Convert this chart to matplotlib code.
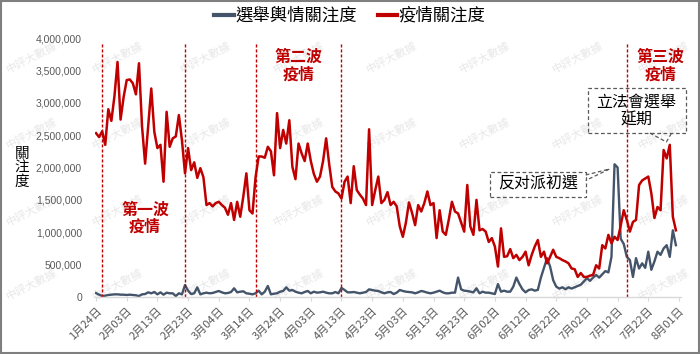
import matplotlib
matplotlib.use('Agg')
import matplotlib.pyplot as plt
from matplotlib.lines import Line2D
from matplotlib.patches import Rectangle
import numpy as np

CJK = ['Noto Sans CJK TC', 'DejaVu Sans']
plt.rcParams['font.family'] = CJK

# ---- data (daily, from 2020-01-24), values in millions ----
tick_labels = ['1月24日', '2月03日', '2月13日', '2月23日', '3月04日', '3月14日', '3月24日',
               '4月03日', '4月13日', '4月23日', '5月03日', '5月13日', '5月23日', '6月02日',
               '6月12日', '6月22日', '7月02日', '7月12日', '7月22日', '8月01日']
y_tick_labels = ['0', '500,000', '1,000,000', '1,500,000', '2,000,000',
                 '2,500,000', '3,000,000', '3,500,000', '4,000,000']
series_names = ['選舉輿情關注度', '疫情關注度']

epidemic = [2.53, 2.47, 2.56, 2.35, 2.90, 2.72, 3.10, 3.63, 2.74, 3.09,
            3.35, 3.36, 3.30, 3.13, 3.61, 2.63, 2.06, 2.65, 3.22, 2.55,
            2.30, 2.35, 1.78, 2.86, 2.32, 2.45, 2.48, 2.81, 2.42, 1.91,
            2.30, 1.96, 2.08, 1.84, 1.99, 1.85, 1.42, 1.45, 1.40, 1.45,
            1.47, 1.42, 1.38, 1.27, 1.45, 1.19, 1.47, 1.24, 1.55, 1.91,
            1.34, 1.29, 1.85, 2.17, 2.17, 2.15, 2.32, 2.25, 1.88, 2.84,
            2.30, 2.58, 2.37, 2.73, 2.01, 1.82, 2.37, 2.22, 2.10, 2.37,
            2.10, 1.90, 1.78, 1.86, 2.10, 2.45, 2.05, 1.70, 1.63, 1.60,
            1.52, 1.78, 1.86, 1.45, 2.02, 1.65, 1.58, 1.52, 1.42, 2.59,
            1.42, 1.65, 1.86, 1.45, 1.50, 1.62, 1.42, 1.47, 1.40, 1.09,
            0.93, 1.15, 1.46, 1.30, 1.11, 1.42, 1.32, 1.45, 1.63, 1.42,
            1.45, 0.91, 1.34, 1.01, 0.96, 1.20, 1.47, 1.32, 1.29, 1.15,
            1.01, 1.73, 1.09, 0.96, 1.50, 1.03, 1.05, 1.01, 0.85, 0.91,
            0.78, 0.47, 1.06, 0.62, 0.63, 0.74, 0.60, 0.65, 0.57, 0.62,
            0.70, 0.49, 0.65, 0.78, 0.88, 0.62, 0.70, 0.52, 0.62, 0.73,
            0.62, 0.60, 0.57, 0.55, 0.52, 0.44, 0.43, 0.31, 0.37, 0.31,
            0.31, 0.33, 0.34, 0.49, 0.44, 0.80, 0.75, 0.96, 0.83, 0.93,
            0.88, 1.10, 1.34, 1.19, 1.01, 1.16, 1.19, 1.73, 1.80, 1.83,
            1.86, 1.60, 1.22, 1.39, 1.34, 2.27, 2.14, 2.35, 1.24, 1.03]

election = [0.060, 0.036, 0.015, 0.020, 0.031, 0.036, 0.041, 0.041, 0.036, 0.036,
            0.031, 0.036, 0.031, 0.026, 0.015, 0.041, 0.046, 0.072, 0.057, 0.077,
            0.041, 0.072, 0.036, 0.067, 0.057, 0.057, 0.015, 0.057, 0.041, 0.185,
            0.098, 0.046, 0.057, 0.149, 0.041, 0.057, 0.067, 0.057, 0.062, 0.077,
            0.093, 0.072, 0.057, 0.062, 0.077, 0.134, 0.072, 0.082, 0.088, 0.057,
            0.051, 0.041, 0.057, 0.098, 0.041, 0.082, 0.170, 0.041, 0.051, 0.057,
            0.082, 0.093, 0.149, 0.098, 0.108, 0.082, 0.067, 0.057, 0.077, 0.093,
            0.057, 0.082, 0.067, 0.072, 0.082, 0.067, 0.057, 0.057, 0.077, 0.057,
            0.140, 0.108, 0.072, 0.072, 0.077, 0.067, 0.057, 0.067, 0.077, 0.118,
            0.108, 0.098, 0.093, 0.072, 0.057, 0.072, 0.077, 0.046, 0.067, 0.108,
            0.093, 0.082, 0.077, 0.072, 0.057, 0.072, 0.093, 0.082, 0.067, 0.057,
            0.067, 0.082, 0.098, 0.072, 0.057, 0.057, 0.067, 0.067, 0.300, 0.118,
            0.098, 0.093, 0.082, 0.072, 0.134, 0.057, 0.082, 0.067, 0.067, 0.057,
            0.046, 0.200, 0.082, 0.098, 0.082, 0.082, 0.160, 0.300, 0.200, 0.118,
            0.072, 0.108, 0.118, 0.098, 0.110, 0.300, 0.450, 0.600, 0.470, 0.260,
            0.160, 0.130, 0.150, 0.120, 0.150, 0.130, 0.150, 0.170, 0.190, 0.240,
            0.290, 0.250, 0.300, 0.340, 0.300, 0.350, 0.400, 0.380, 0.620, 2.050,
            2.000, 0.900, 0.820, 0.620, 0.570, 0.310, 0.600, 0.440, 0.520, 0.450,
            0.700, 0.420, 0.550, 0.700, 0.650, 0.750, 0.800, 0.620, 1.030, 0.800]

wave_days = [2, 29, 52, 80, 173]          # dashed separators (day index)
wave_texts = ['第一波\n疫情', '第二波\n疫情', '第三波\n疫情']

RED = '#C00000'
GRAY = '#44546A'
TXT = '#595959'

x = np.arange(len(epidemic))
epi = np.array(epidemic) * 1e6
ele = np.array(election) * 1e6

fig = plt.figure(figsize=(7, 3.54), dpi=100)
ax = fig.add_axes([94.5 / 700, 57 / 354, 586 / 700, 259 / 354])
ax.patch.set_alpha(0)

# watermarks
for cx in [32, 118, 206, 299, 392, 485, 578, 664]:
    for cy in [57, 133, 210, 284]:
        fig.text(cx / 700, 1 - cy / 354, '中評大數據', rotation=27, fontsize=8,
                 color='#e8e8e8', ha='center', va='center', zorder=-1)

ax.plot(x, ele, color=GRAY, lw=1.7, solid_joinstyle='round')
ax.plot(x, epi, color=RED, lw=1.8, solid_joinstyle='round')
ax.vlines(wave_days, 0, 3.93e6, colors=RED, linestyles=(0, (2.2, 1.4)), lw=1.0)

ax.set_xlim(-0.5, 190.5)
ax.set_ylim(0, 4e6)
ax.set_yticks(np.arange(0, 4.5e6, 5e5))
ax.set_yticklabels(y_tick_labels, fontfamily=['Liberation Sans', 'DejaVu Sans'],
                   fontsize=7.5, color=TXT)
ax.set_xticks(np.arange(0, 191, 10))
ax.set_xticklabels(tick_labels, rotation=45, ha='right', rotation_mode='anchor',
                   fontsize=8, color=TXT)
ax.tick_params(axis='y', length=0, pad=9)
ax.tick_params(axis='x', length=3, color='#D9D9D9', pad=3)
for s in ['top', 'right', 'left']:
    ax.spines[s].set_visible(False)
ax.spines['bottom'].set_color('#D9D9D9')
ax.spines['bottom'].set_linewidth(1.0)

# wave labels
ax.text(16.0, 1.22e6, wave_texts[0], color=RED, fontsize=11.5, fontweight='bold',
        ha='center', va='center', linespacing=1.1)
ax.text(66.0, 3.57e6, wave_texts[1], color=RED, fontsize=11.5, fontweight='bold',
        ha='center', va='center', linespacing=1.1)
ax.text(184.0, 3.57e6, wave_texts[2], color=RED, fontsize=11.5, fontweight='bold',
        ha='center', va='center', linespacing=1.1, clip_on=False)

# callouts
dash = (0, (3, 2))
ax.add_patch(Rectangle((160.3, 2.533e6), 31.9, 0.695e6, fill=False, ec=TXT,
                       lw=0.9, ls=dash, clip_on=False))
ax.plot([180.5, 185.9, 187.6], [2.533e6, 2.394e6, 2.533e6], color=TXT, lw=0.9,
        ls=dash, clip_on=False)
ax.text(176.2, 2.87e6, '立法會選舉\n延期', ha='center', va='center', fontsize=11.5,
        color='black', linespacing=1.1, clip_on=False)

ax.add_patch(Rectangle((128.3, 1.544e6), 31.3, 0.386e6, fill=False, ec=TXT,
                       lw=0.9, ls=dash))
ax.plot([159.6, 167.4, 159.6], [1.884e6, 1.977e6, 1.80e6], color=TXT, lw=0.9, ls=dash)
ax.text(144.0, 1.74e6, '反对派初選', ha='center', va='center', fontsize=11.5,
        color='black')

# y label
fig.text(22 / 700, 1 - 168 / 354, '關\n注\n度', ha='center', va='center',
         fontsize=10.5, linespacing=1.0, color='black')

# legend
handles = [Line2D([], [], color=GRAY, lw=3), Line2D([], [], color=RED, lw=3)]
fig.legend(handles, series_names, loc='center', bbox_to_anchor=(0.5, 0.955), ncol=2,
           frameon=False, fontsize=12.5, handlelength=1.1, handletextpad=0.1,
           columnspacing=1.2)

# outer frame
fig.add_artist(Rectangle((0.002, 0.003), 0.996, 0.994, transform=fig.transFigure,
                         fill=False, ec='#7f7f7f', lw=1.5))

fig.savefig('out.png', dpi=100)
